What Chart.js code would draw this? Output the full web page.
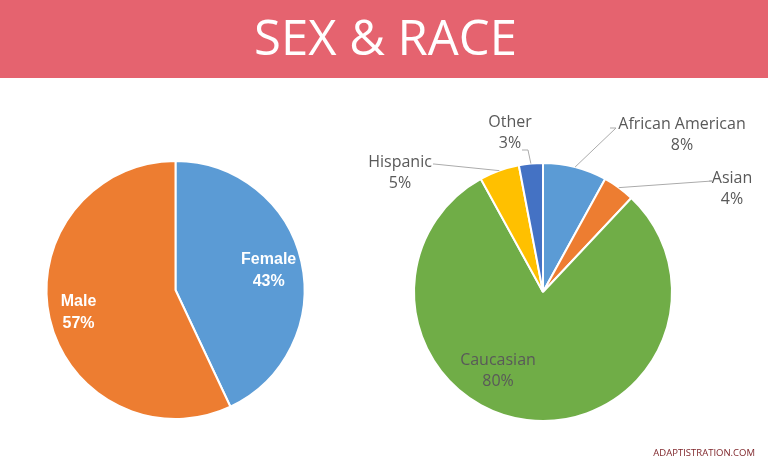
<!DOCTYPE html>
<html>
<head>
<meta charset="utf-8">
<script src="https://cdn.jsdelivr.net/npm/chart.js@4/dist/chart.umd.min.js"></script>
<style>
  html, body { margin: 0; padding: 0; background: #fff; }
  body { width: 768px; height: 464px; position: relative; overflow: hidden; font-family: "Open Sans", sans-serif; }
  .banner { position: absolute; left: 0; top: 0; width: 768px; height: 78px; background: #E5636F; }
  .banner h1 { position: absolute; left: 0; width: 771px; top: 12px; margin: 0; text-align: center;
    font: 400 49px/1 "Open Sans", sans-serif; color: #fff; }
  #sex-chart { position: absolute; left: 0; top: 78px; }
  #race-chart { position: absolute; left: 352px; top: 78px; }
  .credit { position: absolute; right: 13px; top: 448px; font: 400 9.5px/1 "Open Sans", sans-serif; color: #7B1F24; }
</style>
</head>
<body>
<div class="banner"><h1>SEX &amp; RACE</h1></div>
<canvas id="sex-chart" width="352" height="386"></canvas>
<canvas id="race-chart" width="416" height="386"></canvas>
<div class="credit">ADAPTISTRATION.COM</div>

<script>
// chart data
const sexLabels = ['Female', 'Male'];
const sexValues = [43, 57];
const raceLabels = ['African American', 'Asian', 'Caucasian', 'Hispanic', 'Other'];
const raceValues = [8, 4, 80, 5, 3];

const sexColors = ['#5B9BD5', '#ED7D31'];
const raceColors = ['#5B9BD5', '#ED7D31', '#70AD47', '#FFC000', '#4472C4'];

// where labels sit inside the sex pie (fraction of radius along the slice middle)
const sexLabelRadius = [0.74, 0.77];

// race label placement, relative to the pie centre; leader goes from the arc to `end`
const raceLabelStyle = [
  { dx: 139, dy: -157, end: [-72, -7], elbow: [-66, -7] },
  { dx: 189, dy: -103, end: [-23, -8], elbow: [-20, -8] },
  { dx: -45, dy: 78.5, inside: true },
  { dx: -143, dy: -119, end: [33, -9], elbow: [34, -9] },
  { dx: -33, dy: -159, end: [12, 17], elbow: [18, 17] }
];

const pct = v => v + '%';

const sexLabelPlugin = {
  id: 'sexLabels',
  afterDatasetsDraw(chart) {
    const ctx = chart.ctx;
    const meta = chart.getDatasetMeta(0);
    ctx.save();
    ctx.fillStyle = '#fff';
    ctx.font = 'bold 16px "Liberation Sans", Arial, sans-serif';
    ctx.textAlign = 'center';
    ctx.textBaseline = 'middle';
    meta.data.forEach((arc, i) => {
      const p = arc.getProps(['x', 'y', 'startAngle', 'endAngle', 'outerRadius'], true);
      const mid = (p.startAngle + p.endAngle) / 2;
      const r = p.outerRadius * sexLabelRadius[i];
      const x = p.x + Math.cos(mid) * r;
      const y = p.y + Math.sin(mid) * r + 1;
      ctx.fillText(sexLabels[i], x, y - 11);
      ctx.fillText(pct(sexValues[i]), x, y + 11);
    });
    ctx.restore();
  }
};

const raceLabelPlugin = {
  id: 'raceLabels',
  afterDatasetsDraw(chart) {
    const ctx = chart.ctx;
    const meta = chart.getDatasetMeta(0);
    ctx.save();
    ctx.font = '16px "Open Sans", sans-serif';
    ctx.textAlign = 'center';
    ctx.textBaseline = 'middle';
    meta.data.forEach((arc, i) => {
      const p = arc.getProps(['x', 'y', 'startAngle', 'endAngle', 'outerRadius'], true);
      const s = raceLabelStyle[i];
      const lx = p.x + s.dx;
      const ly = p.y + s.dy;
      if (!s.inside) {
        const mid = (p.startAngle + p.endAngle) / 2;
        const ax = p.x + Math.cos(mid) * p.outerRadius;
        const ay = p.y + Math.sin(mid) * p.outerRadius;
        ctx.strokeStyle = '#ABABAB';
        ctx.lineWidth = 1;
        ctx.beginPath();
        ctx.moveTo(ax, ay);
        ctx.lineTo(lx + s.elbow[0], ly + s.elbow[1]);
        ctx.lineTo(lx + s.end[0], ly + s.end[1]);
        ctx.stroke();
      }
      ctx.fillStyle = '#595959';
      ctx.fillText(raceLabels[i], lx, ly - 10.5);
      ctx.fillText(pct(raceValues[i]), lx, ly + 10.5);
    });
    ctx.restore();
  }
};

const baseOptions = {
  responsive: false,
  animation: false,
  plugins: { legend: { display: false }, tooltip: { enabled: false } }
};

new Chart(document.getElementById('sex-chart'), {
  type: 'pie',
  data: {
    labels: sexLabels,
    datasets: [{ data: sexValues, backgroundColor: sexColors, borderColor: '#fff', borderWidth: 2 }]
  },
  options: Object.assign({}, baseOptions, {
    radius: 129,
    layout: { padding: { left: 0, right: 1, top: 38, bottom: 0 } }
  }),
  plugins: [sexLabelPlugin]
});

new Chart(document.getElementById('race-chart'), {
  type: 'pie',
  data: {
    labels: raceLabels,
    datasets: [{ data: raceValues, backgroundColor: raceColors, borderColor: '#fff', borderWidth: 2 }]
  },
  options: Object.assign({}, baseOptions, {
    radius: 129,
    layout: { padding: { left: 0, right: 34, top: 42, bottom: 0 } }
  }),
  plugins: [raceLabelPlugin]
});
</script>
</body>
</html>
